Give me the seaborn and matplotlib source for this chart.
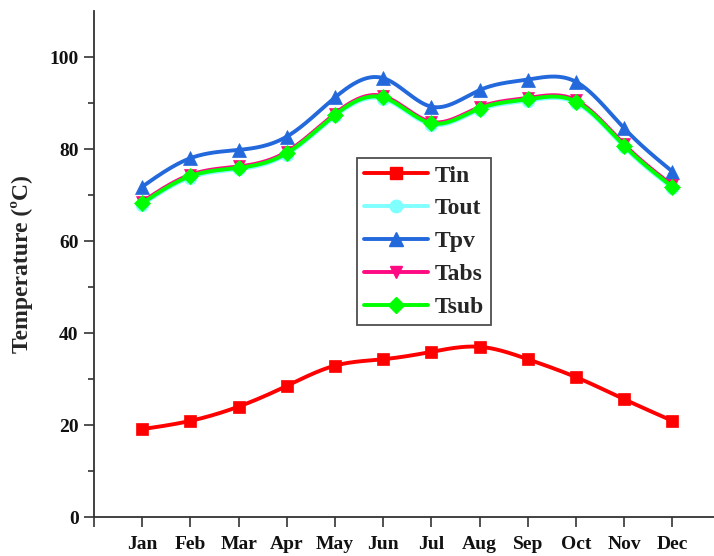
import numpy as np
import pandas as pd
import matplotlib
matplotlib.use("Agg")
import matplotlib.pyplot as plt
from matplotlib.lines import Line2D
import seaborn as sns

months = ["Jan", "Feb", "Mar", "Apr", "May", "Jun", "Jul", "Aug", "Sep", "Oct", "Nov", "Dec"]
t_in = [19.1, 20.9, 24.0, 28.5, 32.9, 34.3, 35.9, 37.0, 34.3, 30.4, 25.6, 20.9]
t_out = [67.9, 73.8, 75.6, 78.8, 87.1, 90.9, 85.3, 88.5, 90.5, 90.0, 80.4, 71.5]
t_pv = [71.8, 78.0, 79.8, 82.7, 91.2, 95.4, 89.2, 92.8, 95.1, 94.6, 84.5, 75.1]
t_abs = [68.5, 74.4, 76.2, 79.4, 87.7, 91.5, 85.9, 89.1, 91.1, 90.6, 81.0, 72.1]
t_sub = [68.2, 74.1, 75.9, 79.1, 87.4, 91.2, 85.6, 88.8, 90.8, 90.3, 80.7, 71.8]

series_names = ["Tin", "Tout", "Tpv", "Tabs", "Tsub"]
series_vals = [t_in, t_out, t_pv, t_abs, t_sub]
colors = ["#FF0000", "#80FFFF", "#2369DB", "#FF0A82", "#00FF00"]
markers = ["s", "o", "^", "v", "D"]
msizes = [9, 9, 10, 9, 8]


def natural_spline(x, y, xs):
    x = np.asarray(x, float)
    y = np.asarray(y, float)
    n = len(x)
    h = np.diff(x)
    A = np.zeros((n, n))
    b = np.zeros(n)
    A[0, 0] = 1
    A[-1, -1] = 1
    for i in range(1, n - 1):
        A[i, i - 1] = h[i - 1]
        A[i, i] = 2 * (h[i - 1] + h[i])
        A[i, i + 1] = h[i]
        b[i] = 6 * ((y[i + 1] - y[i]) / h[i] - (y[i] - y[i - 1]) / h[i - 1])
    M = np.linalg.solve(A, b)
    idx = np.clip(np.searchsorted(x, xs) - 1, 0, n - 2)
    x0, x1 = x[idx], x[idx + 1]
    hh = x1 - x0
    a = (x1 - xs) / hh
    c = (xs - x0) / hh
    return (a * y[idx] + c * y[idx + 1]
            + ((a ** 3 - a) * M[idx] + (c ** 3 - c) * M[idx + 1]) * hh ** 2 / 6)


sns.set_style("ticks")
plt.rcParams["font.family"] = ["Liberation Serif", "DejaVu Serif"]
plt.rcParams["font.weight"] = "bold"

fig = plt.figure(figsize=(7.14, 5.56), dpi=100)
ax = fig.add_axes([94 / 714, 1 - 517 / 556, (13 * 48.2) / 714, (517 - 11) / 556])

xpos = np.arange(1, 13)
xs = np.linspace(1, 12, 400)
handles = []
for name, vals, col, mk, ms in zip(series_names, series_vals, colors, markers, msizes):
    curve = pd.DataFrame({"x": xs, "y": natural_spline(xpos, vals, xs)})
    sns.lineplot(data=curve, x="x", y="y", ax=ax, color=col, linewidth=2.8, sort=False)
    pts = pd.DataFrame({"x": xpos, "y": vals})
    sns.lineplot(data=pts, x="x", y="y", ax=ax, color=col, linestyle="none",
                 marker=mk, markersize=ms, markeredgecolor=col, markeredgewidth=0.5)
    handles.append(Line2D([], [], color=col, linewidth=2.8, marker=mk,
                          markersize=ms, markeredgecolor=col, label=name))

ax.set_xlim(0, 13)
ax.set_ylim(0, 110)
ax.set_xticks(range(0, 13))
ax.set_xticklabels([""] + months)
ax.set_yticks([0, 20, 40, 60, 80, 100])
ax.set_yticks([10, 30, 50, 70, 90], minor=True)
ax.tick_params(axis="both", which="major", direction="out", length=7, width=1.2,
               labelsize=14, color="#333333", labelcolor="#111111")
ax.tick_params(axis="y", which="minor", direction="out", length=4, width=1.2, color="#333333")
ax.tick_params(axis="x", pad=7)
ax.tick_params(axis="y", pad=4)
for lbl in ax.get_xticklabels() + ax.get_yticklabels():
    lbl.set_fontweight("bold")
ax.set_xlabel("")
ax.set_ylabel("Temperature (ºC)", fontsize=17, fontweight="bold", labelpad=12)
for s in ["top", "right"]:
    ax.spines[s].set_visible(False)
for s in ["left", "bottom"]:
    ax.spines[s].set_linewidth(1.3)
    ax.spines[s].set_color("#333333")

leg = ax.legend(handles=handles, loc="upper left", bbox_to_anchor=(357 / 714, 1 - 158 / 556),
                bbox_transform=fig.transFigure, frameon=True, fancybox=False,
                prop={"family": ["Liberation Serif"], "weight": "bold", "size": 17},
                handlelength=2.7, handletextpad=0.3, labelspacing=0.48,
                borderpad=0.3, borderaxespad=0)
leg.get_frame().set_edgecolor("#222222")
leg.get_frame().set_linewidth(1.3)

fig.savefig("out.png", dpi=100)
